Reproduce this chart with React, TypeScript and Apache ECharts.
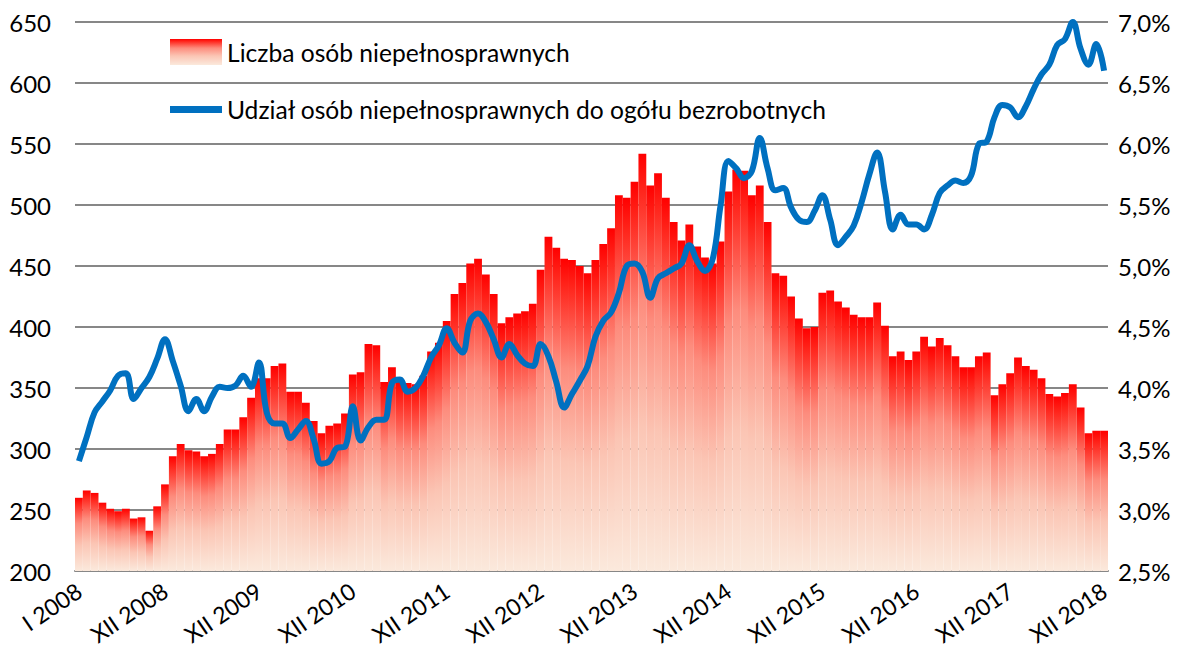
import React, { useEffect, useRef } from "react";
import * as echarts from "echarts";

const ROMAN = ["I", "II", "III", "IV", "V", "VI", "VII", "VIII", "IX", "X", "XI", "XII"];
const YEARS = [2008, 2009, 2010, 2011, 2012, 2013, 2014, 2015, 2016, 2017, 2018];
const categories: string[] = YEARS.flatMap((y) => ROMAN.map((m) => `${m} ${y}`));

const SERIES_COUNT_NAME = "Liczba osób niepełnosprawnych";
const SERIES_SHARE_NAME = "Udział osób niepełnosprawnych do ogółu bezrobotnych";

// Liczba osób niepełnosprawnych (tys.), I 2008 – XII 2018
const disabledCount = [
  260, 266, 264, 256, 251, 249, 251, 243, 244, 233, 253, 271,
  294, 304, 299, 298, 294, 296, 304, 316, 316, 326, 342, 358,
  358, 368, 370, 347, 347, 338, 323, 313, 319, 321, 329, 361,
  363, 386, 385, 355, 367, 355, 354, 353, 360, 380, 387, 405,
  427, 436, 452, 456, 443, 427, 403, 408, 411, 413, 419, 447,
  474, 465, 456, 455, 450, 444, 455, 468, 481, 508, 506, 519,
  542, 516, 526, 506, 486, 471, 484, 466, 457, 452, 470, 511,
  529, 528, 508, 516, 486, 444, 442, 425, 407, 399, 400, 428,
  430, 421, 416, 410, 408, 408, 420, 401, 376, 380, 373, 380,
  392, 384, 391, 385, 376, 367, 367, 376, 379, 344, 353, 362,
  375, 368, 365, 358, 345, 343, 346, 353, 334, 313, 315, 315,
];

// Udział osób niepełnosprawnych do ogółu bezrobotnych (%)
const disabledShare = [
  3.40, 3.60, 3.80, 3.89, 3.98, 4.10, 4.12, 3.91, 4.00, 4.09, 4.24, 4.40,
  4.22, 4.02, 3.81, 3.91, 3.81, 3.93, 4.01, 4.00, 4.02, 4.10, 4.01, 4.21,
  3.80, 3.71, 3.71, 3.59, 3.66, 3.73, 3.58, 3.38, 3.40, 3.51, 3.52, 3.85,
  3.57, 3.68, 3.74, 3.74, 4.04, 4.07, 3.97, 4.00, 4.10, 4.25, 4.35, 4.49,
  4.37, 4.29, 4.55, 4.61, 4.54, 4.40, 4.25, 4.36, 4.27, 4.20, 4.18, 4.36,
  4.26, 4.05, 3.84, 3.95, 4.06, 4.18, 4.42, 4.55, 4.62, 4.78, 5.00, 5.02,
  4.95, 4.74, 4.90, 4.94, 4.98, 5.02, 5.17, 5.04, 4.96, 5.06, 5.50, 5.86,
  5.80, 5.72, 5.78, 6.05, 5.80, 5.62, 5.64, 5.48, 5.38, 5.36, 5.45, 5.58,
  5.38, 5.17, 5.24, 5.33, 5.52, 5.75, 5.93, 5.61, 5.30, 5.42, 5.34, 5.34,
  5.30, 5.42, 5.60, 5.66, 5.70, 5.68, 5.74, 6.00, 6.02, 6.22, 6.32, 6.30,
  6.22, 6.31, 6.45, 6.57, 6.65, 6.81, 6.86, 7.00, 6.78, 6.65, 6.82, 6.60,
];

const LEFT_MIN = 200;
const LEFT_MAX = 650;
const LEFT_STEP = 50;
const RIGHT_MIN = 2.5;
const RIGHT_MAX = 7.0;
const RIGHT_STEP = 0.5;

const FONT = "Lato, 'Open Sans', sans-serif";
const GRID_COLOR = "#878787";
const LINE_COLOR = "#0070C0";

export default function App() {
  const ref = useRef<HTMLDivElement>(null);

  useEffect(() => {
    document.body.style.margin = "0";
    if (!ref.current) return;
    const chart = echarts.init(ref.current, undefined, { renderer: "svg" });

    const barGradient = new echarts.graphic.LinearGradient(0, 0, 0, 1, [
      { offset: 0, color: "#FF0000" },
      { offset: 0.08, color: "#FF2219" },
      { offset: 0.35, color: "#FD8C7D" },
      { offset: 0.65, color: "#FBC5B4" },
      { offset: 1, color: "#FBE9DC" },
    ]);

    const showLabel = (index: number) => index === 0 || index % 12 === 11;

    chart.setOption({
      animation: false,
      textStyle: { fontFamily: FONT },
      legend: {
        orient: "vertical",
        left: 165,
        top: 34,
        itemWidth: 52,
        itemHeight: 26,
        itemGap: 32,
        textStyle: { fontSize: 24.6, color: "#000", fontFamily: FONT },
        data: [
          { name: SERIES_COUNT_NAME, icon: "rect" },
          { name: SERIES_SHARE_NAME, icon: "path://M0 0H52V7H0Z" },
        ],
      },
      grid: { left: 75, right: 87, top: 22, bottom: 84, containLabel: false },
      xAxis: {
        type: "category",
        data: categories,
        boundaryGap: true,
        axisLine: { lineStyle: { color: GRID_COLOR, width: 2 } },
        axisTick: { interval: 0, length: 6, lineStyle: { color: GRID_COLOR, width: 1.5 } },
        axisLabel: {
          interval: (index: number) => showLabel(index),
          rotate: 34,
          fontSize: 23,
          color: "#000",
          margin: 17,
          fontFamily: FONT,
        },
      },
      yAxis: [
        {
          type: "value",
          min: LEFT_MIN,
          max: LEFT_MAX,
          interval: LEFT_STEP,
          axisLine: { show: false },
          axisTick: { show: false },
          axisLabel: { fontSize: 24, color: "#000", margin: 24, fontFamily: FONT },
          splitLine: { lineStyle: { color: GRID_COLOR, width: 2 } },
        },
        {
          type: "value",
          position: "right",
          min: RIGHT_MIN,
          max: RIGHT_MAX,
          interval: RIGHT_STEP,
          axisLine: { show: false },
          axisTick: { show: false },
          splitLine: { show: false },
          axisLabel: {
            fontSize: 24,
            color: "#000",
            margin: 10,
            fontFamily: FONT,
            formatter: (v: number) => v.toFixed(1).replace(".", ",") + "%",
          },
        },
      ],
      series: [
        {
          name: SERIES_COUNT_NAME,
          type: "bar",
          data: disabledCount,
          barCategoryGap: "0%",
          barGap: "0%",
          itemStyle: { color: barGradient },
        },
        {
          name: SERIES_SHARE_NAME,
          type: "line",
          yAxisIndex: 1,
          data: disabledShare,
          smooth: 0.4,
          showSymbol: false,
          symbol: "none",
          lineStyle: { width: 6, color: LINE_COLOR },
          itemStyle: { color: LINE_COLOR },
          z: 5,
        },
      ],
    });

    return () => chart.dispose();
  }, []);

  return <div ref={ref} style={{ width: 1195, height: 655 }} />;
}
